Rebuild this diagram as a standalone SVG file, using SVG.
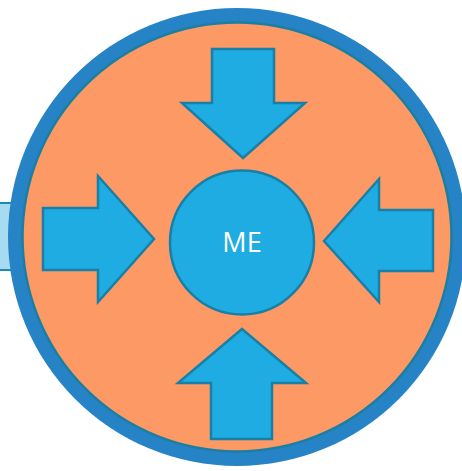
<svg xmlns="http://www.w3.org/2000/svg" width="462" height="471" viewBox="0 0 462 471">
<style>
.arrow{fill:#1EACE2;stroke:#1880A6;stroke-width:2.5;stroke-linejoin:miter}
.lbl{font-family:"Open Sans","Liberation Sans",sans-serif;font-size:27px;fill:#FFFFFF;text-anchor:middle}
</style>
<rect x="-4" y="203" width="30" height="67" fill="#A6DBF2" stroke="#1A8AB8" stroke-width="2"/>
<g id="ring">
<circle cx="237" cy="237" r="229" fill="#2683C6"/>
<circle cx="237" cy="237" r="214.5" fill="#FD9965" stroke="#1A7FA0" stroke-width="2.5"/>
</g>
<g id="arrows">
<g id="arrow-down"><polygon class="arrow" points="212,49 274,49 274,103 305,103 243,158 182,103 212,103"/></g>
<g id="arrow-up"><polygon class="arrow" points="242,329 306,383 272,383 272,439 211,439 211,383 178,383"/></g>
<g id="arrow-right"><polygon class="arrow" points="43,208 98,208 98,176 154,239 98,302 98,270 43,270"/></g>
<g id="arrow-left"><polygon class="arrow" points="324,241 379,179 379,210 433,210 433,271 379,271 379,302"/></g>
</g>
<g id="me">
<circle cx="242" cy="242.5" r="72" fill="#1EACE2" stroke="#1880A6" stroke-width="2.5"/>
<text class="lbl" x="242" y="252">ME</text>
</g>
</svg>
